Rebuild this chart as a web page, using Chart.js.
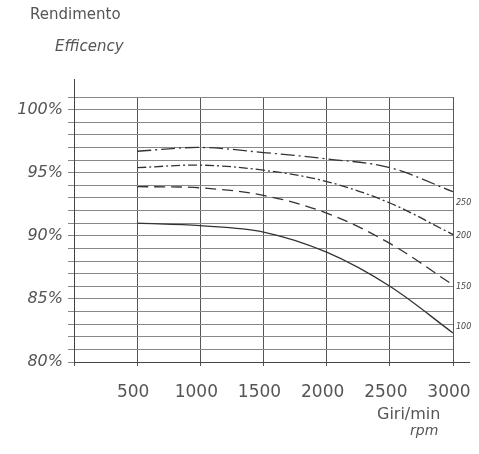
<!DOCTYPE html>
<html>
<head>
<meta charset="utf-8">
<script src="https://cdn.jsdelivr.net/npm/chart.js@4/dist/chart.umd.min.js"></script>
<style>
  body { margin: 0; background: #fff; }
  canvas { display: block; }
</style>
</head>
<body>
<canvas id="myChart" width="479" height="454"></canvas>
<script>
const rpm = [500, 1000, 1500, 2000, 2500, 3000];
const eff250 = [96.7, 97.0, 96.6, 96.1, 95.4, 93.5];
const eff200 = [95.4, 95.6, 95.2, 94.3, 92.6, 90.1];
const eff150 = [93.9, 93.8, 93.2, 91.8, 89.4, 86.1];
const eff100 = [91.0, 90.8, 90.3, 88.7, 86.0, 82.3];
const seriesNames = ['250', '200', '150', '100'];
const yTickLabels = [80, 85, 90, 95, 100];

const toPoints = vals => vals.map((v, i) => ({ x: rpm[i], y: v }));

const lineStyle = {
  borderColor: '#333',
  borderWidth: 1.3,
  pointRadius: 0,
  fill: false,
  tension: 0.35
};

const data = {
  datasets: [
    { ...lineStyle, label: seriesNames[0], data: toPoints(eff250), borderDash: [14, 4, 2, 4], labelDy: 11 },
    { ...lineStyle, label: seriesNames[1], data: toPoints(eff200), borderDash: [9, 3, 2, 3], labelDy: 1 },
    { ...lineStyle, label: seriesNames[2], data: toPoints(eff150), borderDash: [11, 6], labelDy: 2 },
    { ...lineStyle, label: seriesNames[3], data: toPoints(eff100), labelDy: -6 }
  ]
};

// testi degli assi e etichette delle curve
const extras = {
  id: 'extras',
  afterDraw(chart) {
    const ctx = chart.ctx;
    const a = chart.chartArea;
    const ys = chart.scales.y;
    ctx.save();
    ctx.strokeStyle = '#444';
    ctx.lineWidth = 1;
    ctx.beginPath();
    ctx.moveTo(a.left + 0.5, a.top);
    ctx.lineTo(a.left + 0.5, a.top - 18);
    ctx.moveTo(a.right, a.bottom + 0.5);
    ctx.lineTo(a.right + 17, a.bottom + 0.5);
    ctx.stroke();

    ctx.fillStyle = '#444';
    ctx.textBaseline = 'middle';
    ctx.textAlign = 'left';
    ctx.font = 'italic 8px "DejaVu Sans"';
    chart.data.datasets.forEach(ds => {
      const last = ds.data[ds.data.length - 1];
      ctx.fillText(ds.label, a.right + 3, ys.getPixelForValue(last.y) + ds.labelDy);
    });

    ctx.fillStyle = '#555';
    ctx.font = '15px "DejaVu Sans"';
    ctx.fillText('Rendimento', 30, 15);
    ctx.font = 'italic 15px "DejaVu Sans"';
    ctx.fillText('Efficency', 55, 47);
    ctx.font = '16px "DejaVu Sans"';
    ctx.fillText('Giri/min', 377, 415);
    ctx.font = 'italic 14px "DejaVu Sans"';
    ctx.fillText('rpm', 410, 431);
    ctx.restore();
  }
};

const config = {
  type: 'line',
  data: data,
  options: {
    responsive: false,
    devicePixelRatio: 1,
    animation: false,
    layout: { padding: { top: 97, right: 26, left: 0, bottom: 0 } },
    plugins: { legend: { display: false }, tooltip: { enabled: false } },
    scales: {
      x: {
        type: 'linear',
        min: 0,
        max: 3000,
        afterFit: s => { s.height = 92; s.paddingLeft = 0; s.paddingRight = 0; },
        border: { display: true, color: '#444', width: 1 },
        grid: { color: '#555', lineWidth: 1, tickLength: 4 },
        ticks: {
          stepSize: 500,
          padding: 16,
          labelOffset: -4,
          maxRotation: 0,
          color: '#555',
          font: { family: 'DejaVu Sans', size: 17 },
          callback: v => (v === 0 ? '' : v)
        }
      },
      y: {
        min: 80,
        max: 101,
        afterFit: s => { s.width = 74; s.paddingTop = 0; s.paddingBottom = 0; },
        border: { display: true, color: '#444', width: 1 },
        grid: { color: '#888', lineWidth: 1, tickLength: 6 },
        ticks: {
          stepSize: 1,
          padding: 5,
          autoSkip: false,
          color: '#555',
          font: { family: 'DejaVu Sans', size: 16, style: 'italic' },
          callback: v => (yTickLabels.includes(v) ? v + '%' : '')
        }
      }
    }
  },
  plugins: [extras]
};

const myChart = new Chart(document.getElementById('myChart'), config);
</script>
</body>
</html>
